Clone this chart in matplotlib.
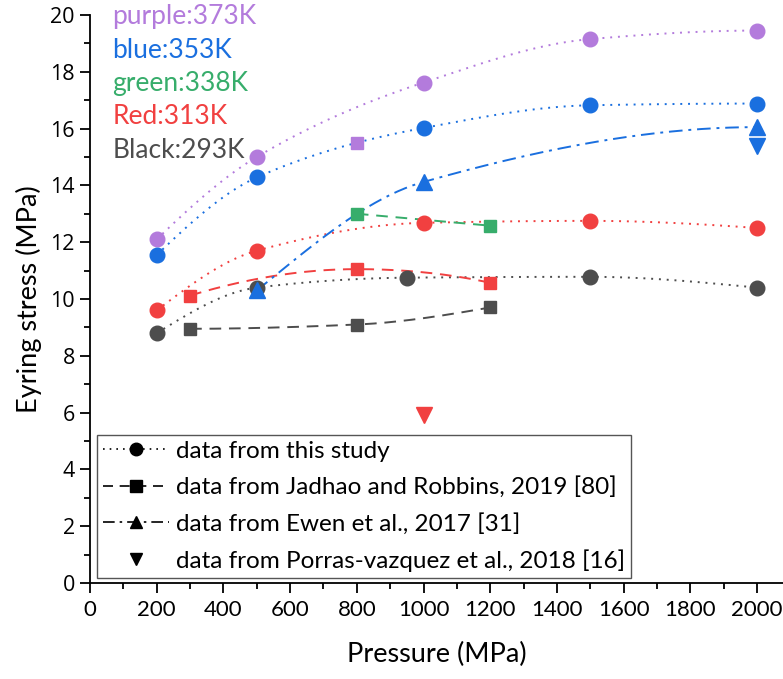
import matplotlib.pyplot as plt
import numpy as np
from matplotlib.lines import Line2D
from matplotlib.ticker import MultipleLocator

# colours (Origin style)
purple = '#B37BDC'
blue = '#1A6FDF'
green = '#37AD6B'
red = '#F14040'
black = '#4D4D4D'

# data from this study (circles)
p_study_purple = [200, 500, 1000, 1500, 2000]
s_study_purple = [12.1, 15.0, 17.62, 19.15, 19.45]
p_study_blue = [200, 500, 1000, 1500, 2000]
s_study_blue = [11.55, 14.28, 16.02, 16.82, 16.88]
p_study_red = [200, 500, 1000, 1500, 2000]
s_study_red = [9.6, 11.7, 12.68, 12.75, 12.5]
p_study_black = [200, 500, 950, 1500, 2000]
s_study_black = [8.8, 10.4, 10.75, 10.78, 10.4]

# Jadhao and Robbins (squares)
p_jad_purple = [800]
s_jad_purple = [15.5]
p_jad_green = [800, 1200]
s_jad_green = [13.0, 12.58]
p_jad_red = [300, 800, 1200]
s_jad_red = [10.12, 11.05, 10.57]
p_jad_black = [300, 800, 1200]
s_jad_black = [8.95, 9.1, 9.7]

# Ewen et al. (triangles)
p_ewen_blue = [500, 1000, 2000]
s_ewen_blue = [10.3, 14.12, 16.05]

# Porras-vazquez et al. (down triangles)
p_porras_blue = [2000]
s_porras_blue = [15.4]
p_porras_red = [1000]
s_porras_red = [5.9]

temp_labels = ['purple:373K', 'blue:353K', 'green:338K', 'Red:313K', 'Black:293K']
temp_colors = [purple, blue, green, red, black]


def smooth(x, y, n=200):
    # monotone cubic (pchip) through the points, only for drawing the connecting line
    x = np.asarray(x, float)
    y = np.asarray(y, float)
    if len(x) < 3:
        return x, y
    h = np.diff(x)
    d = np.diff(y) / h
    m = np.zeros(len(x))
    for i in range(1, len(x) - 1):
        if d[i - 1] * d[i] > 0:
            w1 = 2 * h[i] + h[i - 1]
            w2 = h[i] + 2 * h[i - 1]
            m[i] = (w1 + w2) / (w1 / d[i - 1] + w2 / d[i])
    m[0] = ((2 * h[0] + h[1]) * d[0] - h[0] * d[1]) / (h[0] + h[1])
    if m[0] * d[0] <= 0:
        m[0] = 0
    m[-1] = ((2 * h[-1] + h[-2]) * d[-1] - h[-1] * d[-2]) / (h[-1] + h[-2])
    if m[-1] * d[-1] <= 0:
        m[-1] = 0
    xs = np.linspace(x[0], x[-1], n)
    k = np.clip(np.searchsorted(x, xs) - 1, 0, len(x) - 2)
    t = (xs - x[k]) / h[k]
    ys = (2 * t ** 3 - 3 * t ** 2 + 1) * y[k] + (t ** 3 - 2 * t ** 2 + t) * h[k] * m[k] \
        + (-2 * t ** 3 + 3 * t ** 2) * y[k + 1] + (t ** 3 - t ** 2) * h[k] * m[k + 1]
    return xs, ys


fig = plt.figure(figsize=(7.83, 6.79), dpi=100)
ax = fig.add_axes([0.115, 0.1414, 0.885, 0.8366])

lw = 1.4
dotted = (0, (1, 3))
dashed = (0, (6, 4))
dashdot = (0, (7, 3, 1.5, 3))

for x, y, c in [(p_study_purple, s_study_purple, purple), (p_study_blue, s_study_blue, blue),
                (p_study_red, s_study_red, red), (p_study_black, s_study_black, black)]:
    xs, ys = smooth(x, y)
    ax.plot(xs, ys, color=c, lw=lw, ls=dotted)
    ax.plot(x, y, 'o', color=c, ms=10.5, zorder=3)

for x, y, c in [(p_jad_green, s_jad_green, green), (p_jad_red, s_jad_red, red),
                (p_jad_black, s_jad_black, black)]:
    xs, ys = smooth(x, y)
    ax.plot(xs, ys, color=c, lw=lw, ls=dashed)
    ax.plot(x, y, 's', color=c, ms=9, zorder=3)
ax.plot(p_jad_purple, s_jad_purple, 's', color=purple, ms=9, zorder=3)

xs, ys = smooth(p_ewen_blue, s_ewen_blue)
ax.plot(xs, ys, color=blue, lw=lw, ls=dashdot)
ax.plot(p_ewen_blue, s_ewen_blue, '^', color=blue, ms=11, zorder=3)

ax.plot(p_porras_blue, s_porras_blue, 'v', color=blue, ms=11, zorder=3)
ax.plot(p_porras_red, s_porras_red, 'v', color=red, ms=11, zorder=3)

ax.set_xlim(0, 2078)
ax.set_ylim(0, 20)
ax.xaxis.set_major_locator(MultipleLocator(200))
ax.xaxis.set_minor_locator(MultipleLocator(100))
ax.yaxis.set_major_locator(MultipleLocator(2))
ax.yaxis.set_minor_locator(MultipleLocator(1))
ax.tick_params(which='major', direction='out', length=7, width=1.3)
ax.tick_params(which='minor', direction='out', length=4, width=1.3)
ax.tick_params(axis='x', labelsize=16, pad=5)
ax.tick_params(axis='y', labelsize=15.5, pad=4)
for lab in ax.get_xticklabels():
    lab.set_fontfamily('Lato')
for lab in ax.get_yticklabels():
    lab.set_fontfamily('Open Sans')
for s in ['top', 'right']:
    ax.spines[s].set_visible(False)
for s in ['left', 'bottom']:
    ax.spines[s].set_linewidth(1.3)

ax.set_xlabel('Pressure (MPa)', fontsize=19.5, family='Lato', labelpad=16)
ax.set_ylabel('Eyring stress (MPa)', fontsize=19.5, family='Lato', labelpad=6)

for i, (t, c) in enumerate(zip(temp_labels, temp_colors)):
    ax.text(0.032, 0.997 - i * 0.0588, t, color=c, fontsize=19, family='Lato',
            transform=ax.transAxes, ha='left', va='center')

handles = [Line2D([], [], color='black', ls=dotted, lw=1.2, marker='o', ms=9),
           Line2D([], [], color='black', ls=dashed, lw=1.2, marker='s', ms=8),
           Line2D([], [], color='black', ls=dashdot, lw=1.2, marker='^', ms=9),
           Line2D([], [], color='black', ls='none', marker='v', ms=9)]
labels = ['data from this study', 'data from Jadhao and Robbins, 2019 [80]',
          'data from Ewen et al., 2017 [31]', 'data from Porras-vazquez et al., 2018 [16]']
leg = ax.legend(handles, labels, loc='lower left', bbox_to_anchor=(0.01, 0.009),
                prop={'family': 'Lato', 'size': 17.5}, fancybox=False, framealpha=1,
                edgecolor='#555555', borderaxespad=0, handlelength=2.7, handletextpad=0.3,
                labelspacing=0.6, borderpad=0.25)
leg.get_frame().set_linewidth(1.0)

fig.savefig('out.png', dpi=100)
